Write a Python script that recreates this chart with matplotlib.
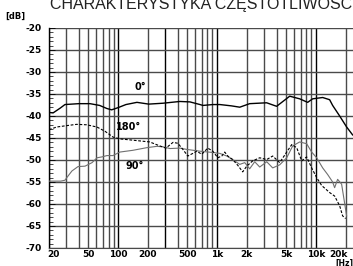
import numpy as np
import matplotlib
matplotlib.use("Agg")
import matplotlib.pyplot as plt
import matplotlib.transforms as mtransforms
from matplotlib.ticker import FixedLocator, NullFormatter

# frequency response (Hz, dB)
f0 = [20, 22, 26, 29, 40, 52, 65, 77, 86, 100, 120, 155, 204, 284, 421, 533,
      673, 721, 908, 1070, 1400, 1700, 2140, 3180, 4010, 5440, 6860, 8260,
      9280, 11720, 13780, 14780, 17400, 20470, 23540]
db0 = [-39.2, -39.3, -38.2, -37.4, -37.2, -37.2, -37.6, -38.3, -38.6, -38.1,
       -37.4, -36.9, -37.3, -37.1, -36.7, -36.8, -37.4, -37.6, -37.4, -37.4,
       -37.7, -38.0, -37.2, -37.0, -37.8, -35.5, -36.1, -36.9, -36.1, -35.8,
       -36.3, -37.6, -40.0, -42.5, -44.3]

f180 = [20, 24, 30, 38, 48, 61, 74, 89, 104, 141, 209, 264, 304, 359, 402,
        452, 507, 570, 624, 702, 807, 908, 1019, 1118, 1197, 1286, 1441, 1622,
        1820, 2000, 2298, 2706, 3184, 3660, 4308, 5070, 5700, 6400, 7190, 8070,
        9070, 10190, 11450, 12860, 13780, 15480, 17400, 18650, 20000]
db180 = [-43.1, -42.5, -42.2, -41.9, -42.0, -42.5, -43.5, -44.8, -45.2, -45.5,
         -45.9, -46.8, -47.3, -46.0, -46.2, -47.6, -49.1, -48.5, -48.0, -48.7,
         -47.3, -48.0, -49.5, -49.1, -48.2, -49.1, -49.9, -51.2, -52.7, -51.4,
         -50.2, -49.5, -49.9, -49.1, -50.6, -48.2, -46.5, -47.2, -50.2, -49.3,
         -51.8, -54.0, -55.8, -56.8, -57.4, -58.2, -60.4, -62.7, -63.3]

f90 = [20, 26.3, 29, 30.3, 34.1, 39.3, 46.3, 54.5, 61.2, 68.6, 77, 88.6, 104,
       141, 195, 246, 284, 335, 421, 496, 673, 908, 1066, 1255, 1441, 1700,
       1910, 2140, 2408, 2706, 3184, 3660, 4308, 5070, 5830, 6860, 8070, 9070,
       10190, 11720, 13160, 14780, 15480, 16600, 18220, 20470]
db90 = [-54.8, -54.8, -54.6, -54.0, -52.5, -51.5, -51.4, -50.6, -49.5, -49.3,
        -49.0, -49.0, -48.2, -47.8, -47.2, -46.9, -47.0, -47.4, -47.3, -47.6,
        -48.0, -48.3, -48.5, -49.1, -49.9, -51.0, -50.6, -52.0, -50.4, -51.6,
        -50.4, -51.8, -51.1, -49.5, -46.8, -45.9, -46.3, -48.2, -49.5, -51.8,
        -53.3, -55.0, -56.3, -54.4, -55.5, -62.7]

xticks = [20, 50, 100, 200, 500, 1000, 2000, 5000, 10000, 20000]
xlabels = ["20", "50", "100", "200", "500", "1k", "2k", "5k", "10k", "20k"]
yticks = list(range(-70, -15, 5))
ylabels = [str(v) for v in yticks]

narrow = ["Liberation Sans Narrow", "DejaVu Sans"]

fig = plt.figure(figsize=(3.53, 2.66), dpi=100)
ax = fig.add_axes([0.1388, 0.0677, 0.865, 0.8271])

# grid lines at every 1..9 multiple
grid_f = [m * 10 ** e for e in range(1, 5) for m in range(1, 10)]
grid_f = [g for g in grid_f if 20 <= g <= 20000]
for g in grid_f:
    c = "black" if g in (100, 300, 1000, 10000) else "#4a4a4a"
    ax.axvline(g, color=c, lw=1.0, zorder=1)
for v in yticks:
    ax.axhline(v, color="#4a4a4a", lw=1.0, zorder=1)

ax.plot(f90, db90, color="#707070", lw=0.8, zorder=3)
ax.plot(f180, db180, color="black", lw=0.8, ls=(0, (2.5, 1.5)), zorder=3)
ax.plot(f0, db0, color="black", lw=1.0, zorder=4)

ax.set_xscale("log")
ax.set_xlim(20, 24500)
ax.set_ylim(-70, -20)

ax.xaxis.set_major_locator(FixedLocator(xticks))
ax.set_xticklabels(xlabels)
ax.xaxis.set_minor_formatter(NullFormatter())
ax.tick_params(axis="x", which="both", length=0, pad=1.5)
ax.set_yticks(yticks)
ax.set_yticklabels(ylabels)
ax.yaxis.set_minor_locator(FixedLocator(np.arange(-70, -19, 1)))
ax.tick_params(axis="y", which="major", direction="in", length=4, width=0.6, pad=5)
ax.tick_params(axis="y", which="minor", direction="in", length=3, width=0.5)
for lab in ax.get_xticklabels() + ax.get_yticklabels():
    lab.set_family(narrow)
    lab.set_fontweight("bold")
    lab.set_fontsize(6.5)

# nudge end labels like the original
xl = ax.get_xticklabels()
xl[0].set_transform(xl[0].get_transform() + mtransforms.ScaledTranslation(3 / 72, 0, fig.dpi_scale_trans))
xl[-1].set_transform(xl[-1].get_transform() + mtransforms.ScaledTranslation(-5 / 72, 0, fig.dpi_scale_trans))

for s in ["top", "right"]:
    ax.spines[s].set_visible(False)
ax.spines["left"].set_color("black")
ax.spines["left"].set_linewidth(1.0)
ax.spines["bottom"].set_color("#4a4a4a")

# curve labels
ax.text(166, -33.3, "0°", fontsize=7, fontweight="bold", family=narrow, ha="center", va="center")
ax.text(127, -42.4, "180°", fontsize=7, fontweight="bold", family=narrow, ha="center", va="center")
ax.text(148, -51.4, "90°", fontsize=7, fontweight="bold", family=narrow, ha="center", va="center")

fig.text(0.142, 0.966, "CHARAKTERYSTYKA CZĘSTOTLIWOŚCI", fontsize=11.5,
         color="#222222", family=["Liberation Sans", "DejaVu Sans"],
         va="baseline", ha="left")
fig.text(0.015, 0.93, "[dB]", fontsize=6, fontweight="bold", family=narrow)
fig.text(0.95, 0.0, "[Hz]", fontsize=5.5, fontweight="bold", family=narrow)

fig.savefig("out.png", dpi=100)
